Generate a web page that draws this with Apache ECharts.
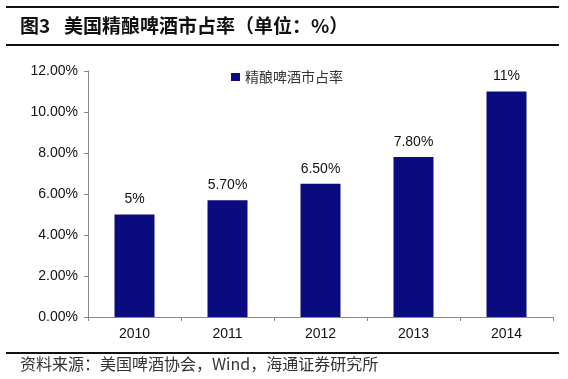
<!DOCTYPE html>
<html><head><meta charset="utf-8">
<script src="https://cdn.jsdelivr.net/npm/echarts@6/dist/echarts.min.js"></script>
<style>html,body{margin:0;padding:0;background:#fff}#c{width:568px;height:379px}</style>
</head><body><div id="c"></div>
<script>
const categories = ['2010', '2011', '2012', '2013', '2014'];
const shareValues = [5, 5.7, 6.5, 7.8, 11];
const shareLabels = ['5%', '5.70%', '6.50%', '7.80%', '11%'];
const seriesName = '精酿啤酒市占率';
const titleNo = '图3';
const titleText = '美国精酿啤酒市占率（单位：%）';
const sourceText = '资料来源：美国啤酒协会，Wind，海通证券研究所';

const chart = echarts.init(document.getElementById('c'), null, {renderer: 'canvas'});
const cjk = '"Noto Sans CJK SC", "Noto Sans", sans-serif';
const latin = '"Liberation Sans", Arial, sans-serif';
chart.setOption({
  animation: false,
  backgroundColor: '#fff',
  graphic: [
    {type: 'rect', shape: {x: 6, y: 6, width: 553, height: 2}, style: {fill: '#111'}},
    {type: 'rect', shape: {x: 6, y: 44, width: 553, height: 2}, style: {fill: '#111'}},
    {type: 'text', left: 20, top: 16, style: {text: titleNo, font: 'bold 19px ' + cjk, fill: '#111'}},
    {type: 'text', left: 64, top: 16, style: {text: titleText, font: 'bold 19px ' + cjk, fill: '#111'}},
    {type: 'rect', shape: {x: 6, y: 352, width: 553, height: 2}, style: {fill: '#111'}},
    {type: 'text', left: 20, top: 356, style: {text: sourceText, font: '16px ' + cjk, fill: '#333'}}
  ],
  legend: {
    data: [seriesName], left: 226, top: 65, itemWidth: 9, itemHeight: 8, itemGap: 2,
    icon: 'rect',
    textStyle: {fontFamily: cjk, fontSize: 14, color: '#333'}
  },
  grid: {left: 88, right: 15, top: 71, bottom: 62},
  xAxis: {
    type: 'category', data: categories,
    axisLine: {lineStyle: {color: '#888', width: 1}},
    axisTick: {show: true, alignWithLabel: false, length: 4, lineStyle: {color: '#888'}},
    axisLabel: {fontFamily: latin, fontSize: 14, color: '#111', margin: 10}
  },
  yAxis: {
    type: 'value', min: 0, max: 12, interval: 2,
    axisLine: {show: true, lineStyle: {color: '#888', width: 1}},
    axisTick: {show: true, length: 4, lineStyle: {color: '#888'}},
    splitLine: {show: false},
    axisLabel: {fontFamily: latin, fontSize: 14, color: '#111', margin: 10,
      formatter: v => v.toFixed(2) + '%'}
  },
  series: [{
    name: seriesName, type: 'bar', data: shareValues, barWidth: 40,
    itemStyle: {color: '#0b0b80'},
    label: {show: true, position: 'top', distance: 8, fontFamily: latin, fontSize: 14, color: '#111',
      formatter: p => shareLabels[p.dataIndex]}
  }]
});
</script></body></html>
